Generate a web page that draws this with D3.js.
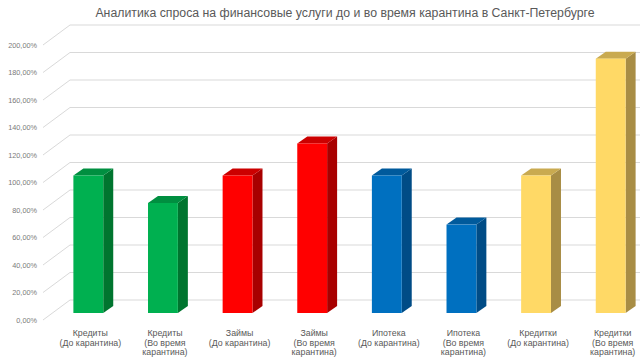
<!DOCTYPE html>
<html><head><meta charset="utf-8">
<script src="https://cdn.jsdelivr.net/npm/d3@7"></script>
<style>body{margin:0;background:#fff}svg{display:block;font-family:"Liberation Sans",Arial,sans-serif}</style>
</head><body><svg id="c" width="640" height="360"></svg>
<script>
const categories = [
  ["Кредиты","(До карантина)"],
  ["Кредиты","(Во время","карантина)"],
  ["Займы","(До карантина)"],
  ["Займы","(Во время","карантина)"],
  ["Ипотека","(До карантина)"],
  ["Ипотека","(Во время","карантина)"],
  ["Кредитки","(До карантина)"],
  ["Кредитки","(Во время","карантина)"]
];
const values = [100, 80, 100, 123.3, 100, 64.3, 100, 185];
const yTicks = [0,20,40,60,80,100,120,140,160,180,200];
const title = "Аналитика спроса на финансовые  услуги до и во время карантина в Санкт-Петербурге";
const palette = [
  {front:"#00B050", top:"#008F40", side:"#00752F"},
  {front:"#00B050", top:"#008F40", side:"#00752F"},
  {front:"#FF0000", top:"#CC0000", side:"#A80000"},
  {front:"#FF0000", top:"#CC0000", side:"#A80000"},
  {front:"#0070C0", top:"#005A9C", side:"#004C86"},
  {front:"#0070C0", top:"#005A9C", side:"#004C86"},
  {front:"#FFD966", top:"#C9AA50", side:"#A88D45"},
  {front:"#FFD966", top:"#C9AA50", side:"#A88D45"}
];

const svg = d3.select("#c");
const y = d3.scaleLinear().domain([0,200]).range([313,38]);
const x = d3.scaleBand().domain(d3.range(categories.length)).range([51,648]).paddingInner(0.6).paddingOuter(0.3);
const dx = 10, dy = -7;          // bar depth offset
const wallDX = 27, wallDY = -20; // wall depth offset from label position
const wallX0 = 70;

svg.append("text").attr("x",345).attr("y",17).attr("text-anchor","middle")
  .attr("font-size",12.3).attr("fill","#595959").text(title);

// gridlines on back wall + side diagonals
const g = svg.append("g");
yTicks.forEach(t => {
  const yb = y(t) + 7 + wallDY;
  g.append("line").attr("x1",wallX0).attr("x2",640).attr("y1",yb).attr("y2",yb)
    .attr("stroke","#d9d9d9").attr("stroke-width",1);
  g.append("line").attr("x1",wallX0-wallDX).attr("y1",y(t)+7).attr("x2",wallX0).attr("y2",yb)
    .attr("stroke","#d9d9d9").attr("stroke-width",1);
  svg.append("text").attr("x",37).attr("y",y(t)+7).attr("dy","0.35em").attr("text-anchor","end")
    .attr("font-size",7.3).attr("fill","#7a7a7a").text(d3.format(".2f")(t).replace(".",",")+"%");
});

// bars
const bars = svg.append("g");
values.forEach((v,i) => {
  const x0 = x(i), w = x.bandwidth(), yt = y(v), yb = y(0), c = palette[i];
  bars.append("path").attr("d",`M${x0+w},${yt}L${x0+w+dx},${yt+dy}L${x0+w+dx},${yb+dy}L${x0+w},${yb}Z`).attr("fill",c.side);
  bars.append("path").attr("d",`M${x0},${yt}L${x0+dx},${yt+dy}L${x0+w+dx},${yt+dy}L${x0+w},${yt}Z`).attr("fill",c.top);
  bars.append("rect").attr("x",x0).attr("y",yt).attr("width",w).attr("height",yb-yt).attr("fill",c.front);
});

// category labels
categories.forEach((lines,i) => {
  const t = svg.append("text").attr("x",x(i)+x.bandwidth()/2+2).attr("y",336)
    .attr("text-anchor","middle").attr("font-size",8.8).attr("fill","#595959");
  lines.forEach((l,k) => t.append("tspan").attr("x",x(i)+x.bandwidth()/2+2).attr("dy",k?9.6:0).text(l));
});
</script></body></html>
